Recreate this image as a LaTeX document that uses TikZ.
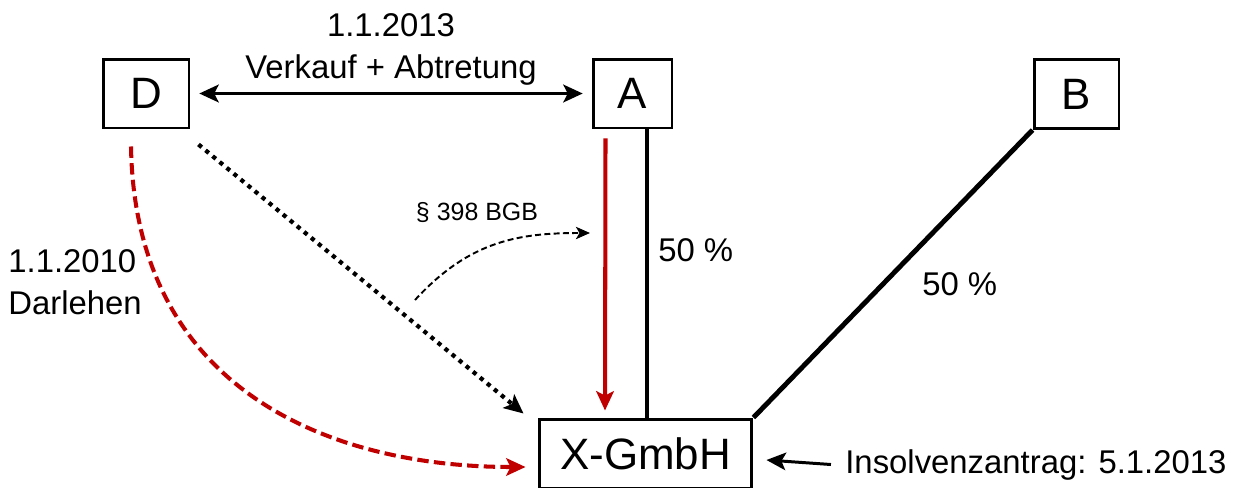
\documentclass[tikz,border=0pt]{standalone}
\usepackage{fontspec}
\setmainfont{Liberation Sans}
\usetikzlibrary{arrows.meta}
\definecolor{darkred}{RGB}{192,0,0}

\begin{document}
\begin{tikzpicture}[x=0.02cm,y=-0.02cm,
        party/.style={draw,line width=1.7pt,inner sep=0pt,minimum height=1.38cm,
            font=\fontsize{25pt}{30pt}\selectfont},
        lbl/.style={inner sep=0pt,font=\fontsize{18.7pt}{23.8pt}\selectfont},
        tip/.style={-{Stealth[length=11pt,width=10pt,inset=2.5pt]}}]
\useasboundingbox (0,0) rectangle (1234,487);

\node[party,minimum width=1.72cm] (d) at (146,93.5) {D};
\node[party,minimum width=1.58cm] (a) at (632.5,93.5) {A};
\node[party,minimum width=1.70cm] (b) at (1076.5,94) {B};
\node[party,minimum width=4.26cm] (x) at (645.5,453.5) {X-GmbH};

\draw[line width=2.2pt,{Stealth[length=11pt,width=10pt,inset=2.5pt]}-{Stealth[length=11pt,width=10pt,inset=2.5pt]}]
    ([xshift=5pt]d.east) -- ([xshift=-5pt]a.west)
    node[lbl,midway,align=center,yshift=25pt] (verkauf) {1.1.2013\\Verkauf + Abtretung};

\draw[line width=2.8pt] ([shift={(14.5,0)}]a.south) -- ([shift={(1.5,0)}]x.north)
    node[lbl,pos=0.42,right=5pt] (pa) {50 \%};
\draw[line width=2.8pt] (b.south west) -- (x.north east)
    node[lbl,pos=0.536,right=21pt] (pb) {50 \%};

\draw[tip,color=darkred,line width=2.3pt] ([shift={(-27,9)}]a.south) -- ([shift={(-40.5,-7)}]x.north);

\draw[tip,line width=2.4pt,dash pattern=on 2.4pt off 2.8pt] ([shift={(8,15)}]d.south east) -- ([shift={(-14,-4)}]x.north west);

\draw[tip,color=darkred,line width=2.3pt,dash pattern=on 6.5pt off 3pt]
    ([shift={(-15,17)}]d.south) .. controls (135,390) and (330,467) .. ([shift={(-12,13.5)}]x.west);

\node[lbl,align=left,anchor=west] (darlehen) at (8,282) {1.1.2010\\Darlehen};

\coordinate (p1) at (415,300);
\coordinate (p2) at (590,233);
\draw[-{Stealth[length=8pt,width=7pt,inset=2pt]},line width=1.1pt,dash pattern=on 3.4pt off 1.9pt]
    (p1) .. controls (470,240) and (520,233) .. (p2);
\node[inner sep=0pt,font=\fontsize{14.2pt}{17pt}\selectfont] (bgb) at (477,213) {\S{} 398 BGB};

\node[lbl,anchor=base west] (ins) at (845,473) {Insolvenzantrag: 5.1.2013};
\draw[tip,line width=1.7pt] ([xshift=-8pt]ins.west) -- ([shift={(13,6.5)}]x.east);

\end{tikzpicture}
\end{document}
